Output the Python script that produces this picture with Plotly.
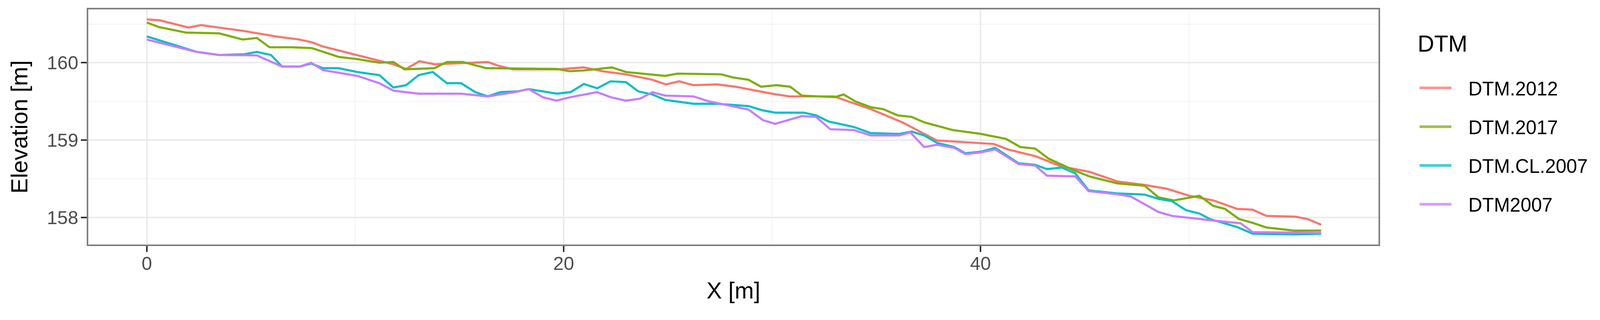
import plotly.graph_objects as go

# DTM profiles (X [m], elevation [m])
x_2012 = [0, 0.6, 2.0, 2.6, 4.68, 6.19, 7.32, 7.92, 8.45, 9.2, 10.1, 11.16, 11.83, 12.44,
          13.08, 13.8, 14.55, 16.36, 16.89, 17.57, 19.68, 20.97, 21.87, 22.99, 24.26, 24.9,
          25.55, 26.23, 27.36, 28.26, 29.02, 30.0, 30.83, 33.0, 33.55, 34.74, 36.25, 37.91,
          40.63, 41.31, 42.66, 43.87, 45.23, 46.57, 47.88, 48.95, 50.02, 51.17, 52.32, 53.06,
          53.72, 55.12, 55.69, 56.35]
z_2012 = [160.56, 160.55, 160.455, 160.487, 160.41, 160.34, 160.30, 160.265, 160.21, 160.16,
          160.095, 160.03, 159.98, 159.92, 160.02, 159.98, 159.99, 160.01, 159.96, 159.915,
          159.915, 159.94, 159.89, 159.85, 159.78, 159.72, 159.76, 159.71, 159.72, 159.69,
          159.65, 159.60, 159.565, 159.565, 159.51, 159.40, 159.23, 158.995, 158.95, 158.88,
          158.79, 158.66, 158.59, 158.465, 158.42, 158.37, 158.28, 158.22, 158.11, 158.10,
          158.02, 158.01, 157.98, 157.905]

x_2017 = [0, 0.6, 1.89, 3.47, 4.6, 5.28, 5.89, 6.94, 7.92, 9.2, 10.1, 11.16, 11.83, 12.36,
          13.8, 14.4, 15.16, 16.29, 19.68, 20.29, 20.97, 22.32, 22.99, 24.87, 25.47, 27.58,
          28.11, 28.87, 29.47, 30.22, 30.87, 31.43, 33.02, 33.43, 34.0, 34.74, 35.34, 36.02,
          36.7, 37.3, 38.66, 40.02, 41.23, 41.91, 42.63, 43.27, 44.48, 45.23, 46.57, 47.88,
          48.54, 49.28, 50.51, 51.17, 51.74, 52.40, 53.06, 53.72, 55.03, 56.35]
z_2017 = [160.52, 160.46, 160.39, 160.38, 160.30, 160.32, 160.20, 160.20, 160.19, 160.076,
          160.047, 160.0, 160.01, 159.915, 159.93, 160.01, 160.01, 159.93, 159.92, 159.89,
          159.90, 159.94, 159.88, 159.83, 159.86, 159.85, 159.81, 159.78, 159.69, 159.71,
          159.69, 159.575, 159.555, 159.59, 159.50, 159.425, 159.40, 159.32, 159.30, 159.23,
          159.13, 159.08, 159.015, 158.91, 158.89, 158.76, 158.61, 158.53, 158.44, 158.41,
          158.26, 158.22, 158.28, 158.15, 158.11, 157.98, 157.93, 157.87, 157.83, 157.83]

x_cl2007 = [0, 0.6, 2.4, 3.47, 4.68, 5.28, 5.96, 6.49, 7.32, 7.89, 8.45, 9.2, 10.1, 11.16,
            11.83, 12.44, 13.04, 13.72, 14.4, 15.08, 15.76, 16.36, 16.97, 17.8, 18.32, 19.0,
            19.68, 20.33, 20.97, 21.61, 22.25, 22.99, 23.58, 24.26, 24.87, 26.23, 27.36, 28.87,
            29.55, 30.15, 31.51, 32.11, 32.72, 33.92, 34.74, 36.1, 36.7, 37.3, 37.91, 38.74,
            39.27, 40.02, 40.7, 41.83, 42.63, 43.19, 43.91, 44.55, 45.19, 46.57, 47.88, 48.54,
            49.19, 49.85, 50.51, 51.0, 52.32, 53.06, 55.03, 56.35]
z_cl2007 = [160.34, 160.29, 160.14, 160.10, 160.11, 160.14, 160.10, 159.95, 159.95, 159.99,
            159.93, 159.93, 159.88, 159.84, 159.68, 159.71, 159.84, 159.88, 159.735, 159.735,
            159.62, 159.565, 159.62, 159.63, 159.66, 159.63, 159.60, 159.62, 159.725, 159.67,
            159.76, 159.75, 159.63, 159.59, 159.52, 159.47, 159.47, 159.44, 159.385, 159.355,
            159.355, 159.32, 159.24, 159.17, 159.09, 159.08, 159.11, 159.06, 158.965, 158.91,
            158.83, 158.85, 158.90, 158.70, 158.68, 158.625, 158.645, 158.57, 158.35, 158.31,
            158.295, 158.24, 158.21, 158.095, 158.05, 157.98, 157.875, 157.79, 157.78, 157.79]

x_2007 = [0, 2.4, 3.47, 5.28, 6.49, 7.32, 7.89, 8.45, 10.1, 11.16, 11.83, 13.04, 15.08, 16.36,
          17.65, 18.32, 19.0, 19.65, 20.33, 20.97, 21.61, 22.25, 22.99, 23.66, 24.26, 24.87,
          26.23, 26.98, 27.66, 28.87, 29.55, 30.15, 31.43, 32.11, 32.8, 33.92, 34.74, 36.1,
          36.63, 37.3, 37.91, 38.74, 39.27, 40.02, 40.7, 41.83, 42.63, 43.19, 44.55, 45.19,
          46.57, 47.22, 48.54, 49.19, 51.17, 52.48, 53.06, 55.03, 56.35]
z_2007 = [160.30, 160.14, 160.10, 160.095, 159.95, 159.95, 160.0, 159.905, 159.83, 159.735,
          159.64, 159.60, 159.60, 159.565, 159.62, 159.66, 159.555, 159.51, 159.555, 159.59,
          159.62, 159.555, 159.51, 159.535, 159.62, 159.575, 159.565, 159.50, 159.46, 159.395,
          159.26, 159.21, 159.31, 159.30, 159.14, 159.13, 159.06, 159.06, 159.10, 158.91,
          158.94, 158.90, 158.82, 158.84, 158.88, 158.69, 158.67, 158.54, 158.53, 158.34,
          158.30, 158.27, 158.07, 158.02, 157.96, 157.925, 157.81, 157.80, 157.80]

series = [
    ("DTM.2012", x_2012, z_2012, "#F8766D"),
    ("DTM.2017", x_2017, z_2017, "#7CAE00"),
    ("DTM.CL.2007", x_cl2007, z_cl2007, "#00BFC4"),
    ("DTM2007", x_2007, z_2007, "#C77CFF"),
]

FONT = "Liberation Sans, Arial, sans-serif"

# the screenshot comes out slightly enlarged and offset by the body margin,
# so target pixel positions are converted to layout pixels
S, BODY = 1.018, 8


def lay(p):
    return p / S - BODY


def sz(v):
    return v / S


W = round(4161 / S - BODY)
H = round(818 / S - BODY)
L = lay(230)
T = lay(22)
R = W - lay(3593)
B = H - lay(636)


def px_x(p):
    return (lay(p) - L) / (W - L - R)


def px_y(p):
    return (H - B - lay(p)) / (H - T - B)


fig = go.Figure()
for name, xs, zs, col in series:
    fig.add_trace(go.Scatter(
        x=xs, y=zs, mode="lines", name=name, showlegend=False,
        line=dict(color=col, width=sz(5.5))
    ))

# ggplot-style legend on the right
fig.add_annotation(x=px_x(3693), y=px_y(111), xref="paper", yref="paper",
                   text="DTM", showarrow=False, xanchor="left", yanchor="middle",
                   font=dict(family=FONT, size=sz(60), color="black"))
for i, (name, xs, zs, col) in enumerate(series):
    ky = 227 + i * 101.3
    fig.add_shape(type="line", xref="paper", yref="paper",
                  x0=px_x(3700), x1=px_x(3783), y0=px_y(ky), y1=px_y(ky),
                  line=dict(color=col, width=sz(7)), opacity=0.75)
    fig.add_annotation(x=px_x(3825), y=px_y(ky + 2), xref="paper", yref="paper",
                       text=name, showarrow=False, xanchor="left", yanchor="middle",
                       font=dict(family=FONT, size=sz(50), color="black"))

# ggplot theme_bw look-alike
axis_common = dict(
    showline=True, mirror=True, linecolor="#7f7f7f", linewidth=sz(4),
    ticks="outside", ticklen=round(sz(15)), tickwidth=sz(4), tickcolor="#333333",
    tickfont=dict(family=FONT, size=sz(49), color="#4d4d4d"),
    showgrid=True, gridcolor="#ebebeb", gridwidth=sz(4),
    zeroline=False,
)

fig.update_layout(
    width=W, height=H,
    paper_bgcolor="white", plot_bgcolor="white",
    margin=dict(l=L, r=R, t=T, b=B),
    xaxis=dict(
        range=[-2.81, 59.1], tickvals=[0, 20, 40],
        minor=dict(tickvals=[10, 30, 50], showgrid=True, gridcolor="#f2f2f2",
                   gridwidth=sz(2), ticks=""),
        ticklabelstandoff=-12,
        title=dict(text="X [m]", font=dict(family=FONT, size=sz(60), color="black"),
                   standoff=24),
        **axis_common
    ),
    yaxis=dict(
        range=[157.65, 160.69], tickvals=[158, 159, 160],
        minor=dict(tickvals=[157.5, 158.5, 159.5, 160.5], showgrid=True,
                   gridcolor="#f2f2f2", gridwidth=sz(2), ticks=""),
        ticklabelstandoff=-3,
        title=dict(text="Elevation [m]", font=dict(family=FONT, size=sz(60), color="black"),
                   standoff=31),
        **axis_common
    ),
)

fig.write_html("out.html")
